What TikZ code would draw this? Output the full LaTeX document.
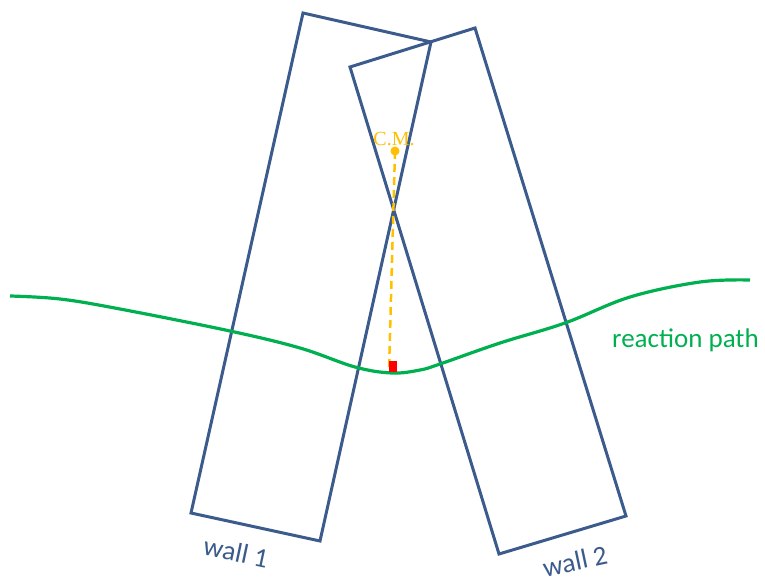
\documentclass[tikz,border=0pt]{standalone}
\usepackage{fontspec}
\setmainfont{Carlito}
\newfontfamily\cmfont{Liberation Serif}
\definecolor{wallblue}{RGB}{59,91,140}
\definecolor{pathgreen}{RGB}{0,176,80}
\definecolor{cmgold}{RGB}{255,192,0}
\begin{document}
\begin{tikzpicture}[x=1pt,y=-1pt,
  wall/.style={draw=wallblue,line width=3pt,line join=miter},
  walllabel/.style={text=wallblue,font=\fontsize{27.5}{32}\selectfont,inner sep=0pt},
  rpath/.style={draw=pathgreen,line width=3.2pt},
  cmline/.style={draw=cmgold,line width=2.5pt,dash pattern=on 8pt off 5pt}]
\useasboundingbox (0,0) rectangle (765,577);
% wall 1
\draw[wall] (303,13) -- (431,42) -- (320,541) -- (191,513) -- cycle;
% wall 2
\draw[wall] (350,67) -- (475,28) -- (626,516) -- (499,554) -- cycle;
% reaction path
\draw[rpath] plot[smooth,tension=0.6] coordinates {(10,296) (60,299) (120,309) (230,331) (300,348) (355,367) (392,373) (420,370) (440,364) (500,343) (565,323) (630,297) (700,282) (750,280)};
% C.M.
\coordinate (cm) at (395,151);
\coordinate (foot) at (389,371);
\draw[cmline] (cm) -- (foot);
\fill[cmgold] (cm) circle (4.5pt);
\node[text=cmgold,font=\cmfont\fontsize{20}{24}\selectfont,inner sep=0pt] (cmlabel) at (394,139) {C.M.};
\fill[red] (389,361) rectangle (397,372);
% labels
\node[walllabel,rotate=-12] (w1) at (236,552) {wall 1};
\node[walllabel,rotate=12] (w2) at (575,561) {wall 2};
\node[text=pathgreen,font=\fontsize{27}{32}\selectfont,inner sep=0pt,anchor=west] (rp) at (612,340) {reaction path};
\end{tikzpicture}
\end{document}
